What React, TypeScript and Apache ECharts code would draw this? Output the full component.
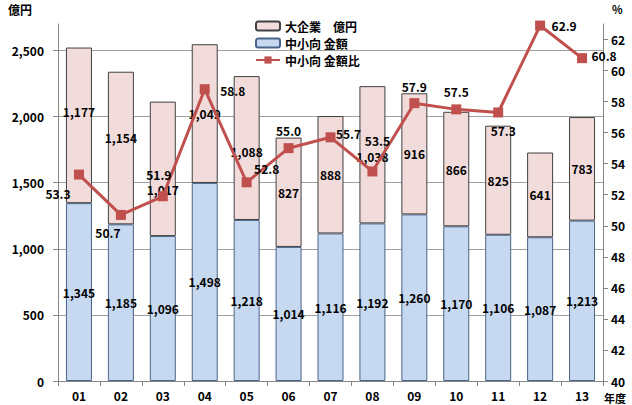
import React, { useEffect, useRef } from "react";
import * as echarts from "echarts";

const years = ["01", "02", "03", "04", "05", "06", "07", "08", "09", "10", "11", "12", "13"];
const smeAmount = [1345, 1185, 1096, 1498, 1218, 1014, 1116, 1192, 1260, 1170, 1106, 1087, 1213];
const largeAmount = [1177, 1154, 1017, 1049, 1088, 827, 888, 1038, 916, 866, 825, 641, 783];
const smeRatio = [53.3, 50.7, 51.9, 58.8, 52.8, 55.0, 55.7, 53.5, 57.9, 57.5, 57.3, 62.9, 60.8];
const leftTicks = [0, 500, 1000, 1500, 2000, 2500];
const rightTicks = [40, 42, 44, 46, 48, 50, 52, 54, 56, 58, 60, 62];

// label placement (style, not data)
const ratioLabelOffsets = [
  [-21, 19], [-13, 18], [-4, -22], [28, 1], [20, -14], [0, -18], [18, -4],
  [5, -31], [0, -17], [0, -18], [5, 18], [24, 0], [22, -3],
];
const largeLabelOffsets = [
  [0, -14], [0, -11], [0, 21], [0, 0], [0, 3], [0, 0], [0, 0],
  [0, 2], [0, 0], [0, 0], [0, 0], [0, 0], [0, 0],
];

const FONT = '"Noto Sans CJK JP", "DejaVu Sans", sans-serif';
const fmt = (v: number) => v.toLocaleString("en-US");

export default function App() {
  const ref = useRef<HTMLDivElement>(null);
  useEffect(() => {
    if (!ref.current) return;
    const chart = echarts.init(ref.current, null, { renderer: "svg" });
    const labelText = { fontFamily: FONT, fontWeight: "bold" as const, fontSize: 12, color: "#000" };
    chart.setOption({
      animation: false,
      backgroundColor: "#fff",
      textStyle: { fontFamily: FONT },
      grid: { left: 58, right: 29, top: 24, bottom: 24 },
      legend: {
        left: 250,
        top: 15,
        orient: "vertical",
        itemGap: 5,
        itemWidth: 24,
        itemHeight: 9,
        textStyle: { ...labelText, fontSize: 12 },
        data: ["大企業　億円", "中小向 金額", "中小向 金額比"],
      },
      graphic: [
        { type: "text", left: 8, top: 3, style: { text: "億円", ...labelText, fill: "#000", fontSize: 12 } },
        { type: "text", left: 604, top: 392, style: { text: "年度", ...labelText, fill: "#000", fontSize: 11 } },
        { type: "text", left: 612, top: 3, style: { text: "%", ...labelText, fill: "#000", fontSize: 11 } },
      ],
      xAxis: {
        type: "category",
        data: years,
        axisLine: { lineStyle: { color: "#868686", width: 1 } },
        axisTick: { show: true, length: 5, lineStyle: { color: "#868686" } },
        axisLabel: { ...labelText, fontSize: 12, margin: 8 },
      },
      yAxis: [
        {
          type: "value",
          min: 0,
          max: 2700,
          interval: 500,
          axisLine: { show: true, lineStyle: { color: "#868686" } },
          axisTick: { show: true, length: 5, customValues: leftTicks, lineStyle: { color: "#868686" } },
          axisLabel: { ...labelText, fontSize: 12, margin: 14, customValues: leftTicks, formatter: (v: number) => fmt(v) },
          splitLine: { show: true, lineStyle: { color: "#a0a0a0", width: 1 } },
        },
        {
          type: "value",
          min: 40,
          max: 63,
          interval: 1,
          position: "right",
          axisLine: { show: true, lineStyle: { color: "#868686" } },
          axisTick: { show: true, length: 5, customValues: rightTicks, lineStyle: { color: "#868686" } },
          axisLabel: { ...labelText, fontSize: 12, margin: 8, customValues: rightTicks },
          splitLine: { show: false },
        },
      ],
      series: [
        {
          name: "中小向 金額",
          type: "bar",
          stack: "total",
          barWidth: "62%",
          data: smeAmount,
          itemStyle: { color: "#c6d9f1", borderColor: "#4a6489", borderWidth: 1 },
          label: { show: true, position: "inside", ...labelText, formatter: (p: any) => fmt(p.value) },
        },
        {
          name: "大企業　億円",
          type: "bar",
          stack: "total",
          barWidth: "62%",
          data: largeAmount.map((v, i) => ({
            value: v,
            label: { offset: largeLabelOffsets[i] },
          })),
          itemStyle: { color: "#f2dcdb", borderColor: "#404040", borderWidth: 1 },
          label: { show: true, position: "inside", ...labelText, formatter: (p: any) => fmt(p.value) },
        },
        {
          name: "中小向 金額比",
          type: "line",
          yAxisIndex: 1,
          data: smeRatio.map((v, i) => ({
            value: v,
            label: { offset: ratioLabelOffsets[i] },
          })),
          symbol: "rect",
          symbolSize: 10,
          lineStyle: { color: "#c0504d", width: 3 },
          itemStyle: { color: "#c0504d" },
          label: { show: true, position: "inside", ...labelText, formatter: (p: any) => p.value.toFixed(1) },
          z: 5,
        },
      ],
    });
    return () => chart.dispose();
  }, []);
  return <div ref={ref} style={{ position: "absolute", left: 0, top: 0, width: 632, height: 405 }} />;
}
